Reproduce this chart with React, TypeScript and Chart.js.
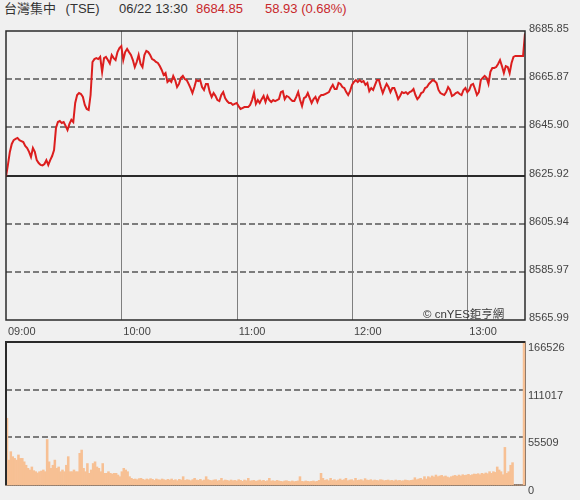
import React, { useEffect, useRef } from "react";
import { Chart, registerables } from "chart.js";
Chart.register(...registerables);

const titleName = "台灣集中 (TSE)";
const titleTime = "06/22 13:30";
const titlePrice = "8684.85";
const titleChange = "58.93 (0.68%)";
const watermark = "© cnYES鉅亨網";

const timeTickMinutes = [0, 60, 120, 180, 240];
const timeTickLabels = ["09:00", "10:00", "11:00", "12:00", "13:00"];
const priceTicks = [8565.99, 8585.97, 8605.94, 8625.92, 8645.9, 8665.87, 8685.85];
const priceTickLabels = ["8565.99", "8585.97", "8605.94", "8625.92", "8645.90", "8665.87", "8685.85"];
const prevClose = 8625.92;
const volumeTicks = [0, 55509, 111017, 166526];
const volumeTickLabels = ["0", "55509", "111017", "166526"];

// one value per minute, 09:00 .. 13:30
const prices = [
  8625.5, 8630.3, 8635.7, 8639.0, 8640.6, 8641.1, 8641.5, 8640.6, 8640.2, 8639.8,
  8638.2, 8637.3, 8635.7, 8633.6, 8637.3, 8635.7, 8632.3, 8631.1, 8630.3, 8630.1,
  8630.7, 8632.3, 8630.3, 8632.3, 8634.0, 8636.5, 8645.6, 8648.1, 8648.5, 8647.7,
  8648.1, 8646.5, 8644.8, 8647.3, 8649.0, 8648.1, 8656.0, 8659.3, 8660.1, 8659.7,
  8658.5, 8655.2, 8653.5, 8653.1, 8659.3, 8673.0, 8674.2, 8674.6, 8674.2, 8675.1,
  8668.9, 8674.6, 8675.1, 8673.8, 8672.4, 8675.9, 8674.6, 8673.8, 8677.1, 8678.8,
  8679.6, 8673.8, 8677.1, 8678.4, 8677.1, 8675.9, 8673.8, 8670.9, 8673.0, 8675.9,
  8672.2, 8670.9, 8675.9, 8677.6, 8677.1, 8675.9, 8674.2, 8673.8, 8673.0, 8672.6,
  8671.3, 8669.7, 8667.6, 8668.4, 8664.7, 8665.5, 8664.7, 8667.2, 8665.5, 8662.6,
  8663.9, 8666.4, 8667.2, 8665.9, 8665.5, 8663.9, 8662.2, 8660.1, 8662.6, 8665.5,
  8665.1, 8665.5, 8662.6, 8661.4, 8663.9, 8663.9, 8660.5, 8658.5, 8660.1, 8658.9,
  8657.2, 8656.8, 8659.3, 8660.5, 8658.0, 8656.8, 8656.0, 8656.0, 8655.2, 8655.6,
  8656.0, 8654.7, 8653.5, 8653.9, 8654.3, 8654.3, 8654.3, 8655.2, 8657.2, 8660.1,
  8655.6, 8657.2, 8656.0, 8657.6, 8658.9, 8656.4, 8658.9, 8657.2, 8656.4, 8657.2,
  8656.8, 8657.2, 8657.6, 8660.5, 8660.9, 8657.6, 8658.9, 8658.5, 8657.6, 8656.8,
  8656.8, 8658.5, 8660.5, 8657.2, 8654.7, 8658.0, 8658.5, 8660.1, 8658.0, 8656.0,
  8657.6, 8658.5, 8656.4, 8658.5, 8659.3, 8659.3, 8659.7, 8660.1, 8660.5, 8662.2,
  8663.5, 8661.8, 8661.8, 8664.3, 8663.9, 8662.6, 8662.2, 8660.5, 8659.3, 8660.9,
  8663.5, 8664.7, 8665.5, 8664.7, 8665.5, 8664.7, 8665.1, 8663.5, 8664.3, 8660.9,
  8662.2, 8661.4, 8663.5, 8665.5, 8665.5, 8662.6, 8660.1, 8662.2, 8663.9, 8662.6,
  8660.5, 8662.2, 8662.2, 8660.1, 8657.6, 8658.9, 8660.5, 8660.1, 8660.5, 8659.7,
  8660.5, 8660.9, 8661.8, 8659.3, 8657.6, 8658.5, 8660.1, 8660.5, 8662.2, 8662.6,
  8663.9, 8664.7, 8665.5, 8665.1, 8664.3, 8661.4, 8660.1, 8659.7, 8659.3, 8660.5,
  8662.6, 8661.4, 8658.9, 8659.3, 8660.1, 8660.5, 8659.7, 8659.3, 8661.4, 8662.2,
  8660.5, 8661.4, 8663.5, 8663.9, 8661.8, 8659.3, 8660.5, 8665.5, 8666.4, 8667.2,
  8666.4, 8663.9, 8668.9, 8670.5, 8670.5, 8670.9, 8672.2, 8673.8, 8671.3, 8668.4,
  8671.3, 8670.9, 8668.4, 8672.6, 8675.1, 8675.5, 8675.5, 8675.5, 8675.5, 8675.5,
  8684.85,
];

const volumes = [
  77700, 29000, 38800, 33000, 31000, 29000, 35000, 31000, 31000, 27000,
  23000, 19400, 17500, 21000, 16700, 15500, 14000, 15500, 16300, 17500,
  15500, 53000, 27000, 19400, 23000, 29000, 19400, 21000, 15500, 17500,
  15500, 23000, 33000, 15500, 15500, 17500, 15500, 15500, 36900, 40700,
  19400, 15500, 25000, 13600, 17500, 25000, 27000, 21000, 19400, 15500,
  25000, 13600, 13600, 15500, 13600, 12800, 13600, 13600, 11600, 9700,
  15500, 19400, 17500, 15500, 9700, 7800, 6600, 7000, 6200, 7400,
  7800, 6600, 5800, 7000, 6200, 7400, 6600, 5400, 7000, 6200,
  5800, 7000, 6200, 5400, 6600, 5800, 7000, 5400, 6200, 5000,
  6600, 5800, 9700, 5400, 6200, 5800, 5000, 6200, 7800, 5800,
  5400, 6600, 5000, 5800, 9700, 6200, 5400, 5000, 5800, 6200,
  4700, 5400, 7800, 5000, 5800, 5400, 4700, 5800, 5000, 5400,
  4700, 6200, 5400, 4300, 5800, 5000, 7800, 4700, 5000, 5400,
  4300, 5000, 5800, 4700, 5400, 4300, 5000, 7800, 4700, 5000,
  4300, 5400, 4700, 4300, 3900, 4700, 5000, 4300, 3900, 4700,
  3900, 4300, 4700, 9700, 4300, 3900, 4700, 4300, 3900, 4300,
  4700, 3900, 4300, 5400, 13600, 7800, 5400, 6200, 5000, 7800,
  5400, 6200, 5000, 5800, 7000, 5400, 6200, 7800, 5000, 5800,
  6200, 5000, 7800, 5400, 5800, 6200, 5000, 7400, 5800, 5400,
  6200, 5000, 5800, 5400, 5000, 6200, 5800, 5000, 5400, 5800,
  5000, 5400, 4700, 5800, 5000, 5400, 4700, 5000, 5800, 5400,
  5000, 5400, 5800, 8500, 6200, 7000, 7800, 6200, 9700, 7000,
  9700, 8500, 10500, 9300, 11600, 9700, 10500, 11200, 9700, 10500,
  9300, 8500, 9700, 10500, 11200, 10100, 11600, 10500, 12000, 11200,
  11600, 12400, 11200, 12000, 12800, 12400, 13200, 12000, 13600, 12800,
  14000, 13200, 15500, 13600, 15500, 14700, 21000, 17500, 15500, 12000,
  43800, 13600, 15500, 23000, 26000, 0, 0, 0, 0, 0,
  166526,
];

const FONT = "'Liberation Sans', Arial, 'Noto Sans CJK TC', sans-serif";
const BG = "#f0f0f0";
const DARK = "#2a2a2a";

const priceFrame = {
  id: "priceFrame",
  beforeDatasetsDraw(chart: any) {
    const { ctx, chartArea, scales } = chart;
    const { left, right, top, bottom } = chartArea;
    ctx.save();
    ctx.strokeStyle = "#7f7f7f";
    ctx.lineWidth = 1;
    timeTickMinutes.slice(1).forEach((v) => {
      const px = Math.round(scales.x.getPixelForValue(v)) + 0.5;
      ctx.beginPath();
      ctx.moveTo(px, top);
      ctx.lineTo(px, bottom);
      ctx.stroke();
    });
    ctx.setLineDash([6, 3]);
    ctx.strokeStyle = "#7c7c7c";
    ctx.lineWidth = 2;
    priceTicks.slice(1, -1).forEach((v) => {
      if (v === prevClose) return;
      const py = Math.round(scales.y.getPixelForValue(v));
      ctx.beginPath();
      ctx.moveTo(left, py);
      ctx.lineTo(right, py);
      ctx.stroke();
    });
    ctx.setLineDash([]);
    ctx.strokeStyle = DARK;
    ctx.lineWidth = 2;
    const pc = Math.round(scales.y.getPixelForValue(prevClose));
    ctx.beginPath();
    ctx.moveTo(left, pc);
    ctx.lineTo(right, pc);
    ctx.stroke();
    ctx.restore();
  },
  afterDatasetsDraw(chart: any) {
    const { ctx, chartArea } = chart;
    const { left, right, top, bottom } = chartArea;
    ctx.save();
    ctx.strokeStyle = DARK;
    ctx.lineWidth = 1.5;
    ctx.strokeRect(left, top, right - left, bottom - top);
    ctx.restore();
  },
};

const volumeFrame = {
  id: "volumeFrame",
  beforeDatasetsDraw(chart: any) {
    const { ctx, chartArea, scales } = chart;
    const { left, right, top, bottom } = chartArea;
    ctx.save();
    ctx.setLineDash([6, 3]);
    ctx.strokeStyle = "#7c7c7c";
    ctx.lineWidth = 2;
    volumeTicks.slice(1, -1).forEach((v) => {
      const py = Math.round(scales.y.getPixelForValue(v));
      ctx.beginPath();
      ctx.moveTo(left, py);
      ctx.lineTo(right, py);
      ctx.stroke();
    });
    ctx.setLineDash([]);
    ctx.strokeStyle = DARK;
    ctx.lineWidth = 1.5;
    ctx.strokeRect(left, top, right - left, bottom - top);
    ctx.restore();
  },
  afterDatasetsDraw(chart: any) {
    const { ctx, chartArea } = chart;
    const { left, right, top, bottom } = chartArea;
    ctx.save();
    ctx.strokeStyle = DARK;
    ctx.lineWidth = 2;
    ctx.beginPath();
    ctx.moveTo(right, top);
    ctx.lineTo(left, top);
    ctx.lineTo(left, bottom);
    ctx.stroke();
    ctx.restore();
  },
};

const noAxisPadding = (s: any) => {
  s.width = 55;
  s.paddingTop = 0;
  s.paddingBottom = 0;
};

export default function App() {
  const priceRef = useRef<HTMLCanvasElement>(null);
  const volRef = useRef<HTMLCanvasElement>(null);

  useEffect(() => {
    const tickFont = { family: FONT, size: 11 };
    const priceChart = new Chart(priceRef.current!, {
      type: "line",
      data: {
        datasets: [
          {
            data: prices.map((p, i) => ({ x: i, y: p })),
            borderColor: "#dc1e1e",
            borderWidth: 2,
            pointRadius: 0,
            tension: 0,
            fill: false,
          },
        ],
      },
      options: {
        animation: false,
        responsive: false,
        maintainAspectRatio: false,
        events: [],
        layout: { padding: { left: 6, top: 31, right: 0, bottom: 0 } },
        plugins: { legend: { display: false }, tooltip: { enabled: false } },
        scales: {
          x: {
            type: "linear",
            min: 0,
            max: 270,
            grid: { display: false, drawTicks: false },
            border: { display: false },
            afterBuildTicks: (s: any) => {
              s.ticks = timeTickMinutes.map((v) => ({ value: v }));
            },
            afterFit: (s: any) => {
              s.height = 20;
              s.paddingLeft = 0;
              s.paddingRight = 0;
            },
            ticks: {
              autoSkip: false,
              maxRotation: 0,
              align: "start",
              labelOffset: 2,
              padding: 5,
              color: "#444",
              font: tickFont,
              callback: (v: any) => timeTickLabels[timeTickMinutes.indexOf(v)] ?? "",
            },
          },
          y: {
            position: "right",
            min: priceTicks[0],
            max: priceTicks[priceTicks.length - 1],
            grid: { display: false, drawTicks: false },
            border: { display: false },
            afterBuildTicks: (s: any) => {
              s.ticks = priceTicks.map((v) => ({ value: v }));
            },
            afterFit: noAxisPadding,
            ticks: {
              crossAlign: "near",
              padding: 4,
              labelOffset: -2,
              color: "#444",
              font: tickFont,
              callback: (v: any) => priceTickLabels[priceTicks.indexOf(v)] ?? "",
            },
          },
        },
      } as any,
      plugins: [priceFrame],
    });

    const volChart = new Chart(volRef.current!, {
      type: "bar",
      data: {
        datasets: [
          {
            data: volumes.map((v, i) => ({ x: i + 0.5, y: v })),
            backgroundColor: "#f7c094",
            borderWidth: 0,
            barPercentage: 1,
            categoryPercentage: 1,
            clip: false,
          } as any,
        ],
      },
      options: {
        animation: false,
        responsive: false,
        maintainAspectRatio: false,
        events: [],
        layout: { padding: { left: 6, top: 2, right: 0, bottom: 15 } },
        plugins: { legend: { display: false }, tooltip: { enabled: false } },
        scales: {
          x: {
            type: "linear",
            min: 0,
            max: 271,
            offset: false,
            display: false,
          },
          y: {
            position: "right",
            min: 0,
            max: volumeTicks[volumeTicks.length - 1],
            grid: { display: false, drawTicks: false },
            border: { display: false },
            afterBuildTicks: (s: any) => {
              s.ticks = volumeTicks.map((v) => ({ value: v }));
            },
            afterFit: noAxisPadding,
            ticks: {
              crossAlign: "near",
              padding: 3,
              labelOffset: 6,
              color: "#444",
              font: tickFont,
              callback: (v: any) => volumeTickLabels[volumeTicks.indexOf(v)] ?? "",
            },
          },
        },
      } as any,
      plugins: [volumeFrame],
    });

    return () => {
      priceChart.destroy();
      volChart.destroy();
    };
  }, []);

  const titleStyle: React.CSSProperties = {
    position: "absolute",
    top: 1,
    fontSize: 13,
    lineHeight: "16px",
    whiteSpace: "nowrap",
  };

  return (
    <div
      style={{
        position: "absolute",
        left: 0,
        top: 0,
        width: 580,
        height: 500,
        background: BG,
        overflow: "hidden",
        fontFamily: FONT,
      }}
    >
      <span style={{ ...titleStyle, left: 4, color: "#333", wordSpacing: 6 }}>{titleName}</span>
      <span style={{ ...titleStyle, left: 119, color: "#333" }}>{titleTime}</span>
      <span style={{ ...titleStyle, left: 196, color: "#c8282c" }}>{titlePrice}</span>
      <span style={{ ...titleStyle, left: 265, color: "#c8282c" }}>{titleChange}</span>
      <canvas
        ref={priceRef}
        width={580}
        height={340}
        style={{ position: "absolute", left: 0, top: 0, width: 580, height: 340 }}
      />
      <canvas
        ref={volRef}
        width={580}
        height={160}
        style={{ position: "absolute", left: 0, top: 340, width: 580, height: 160 }}
      />
      <span
        style={{
          position: "absolute",
          left: 423,
          top: 307,
          fontSize: 11.5,
          lineHeight: "14px",
          color: "#3a3a3a",
          whiteSpace: "nowrap",
          zIndex: 2,
        }}
      >
        {watermark}
      </span>
    </div>
  );
}
